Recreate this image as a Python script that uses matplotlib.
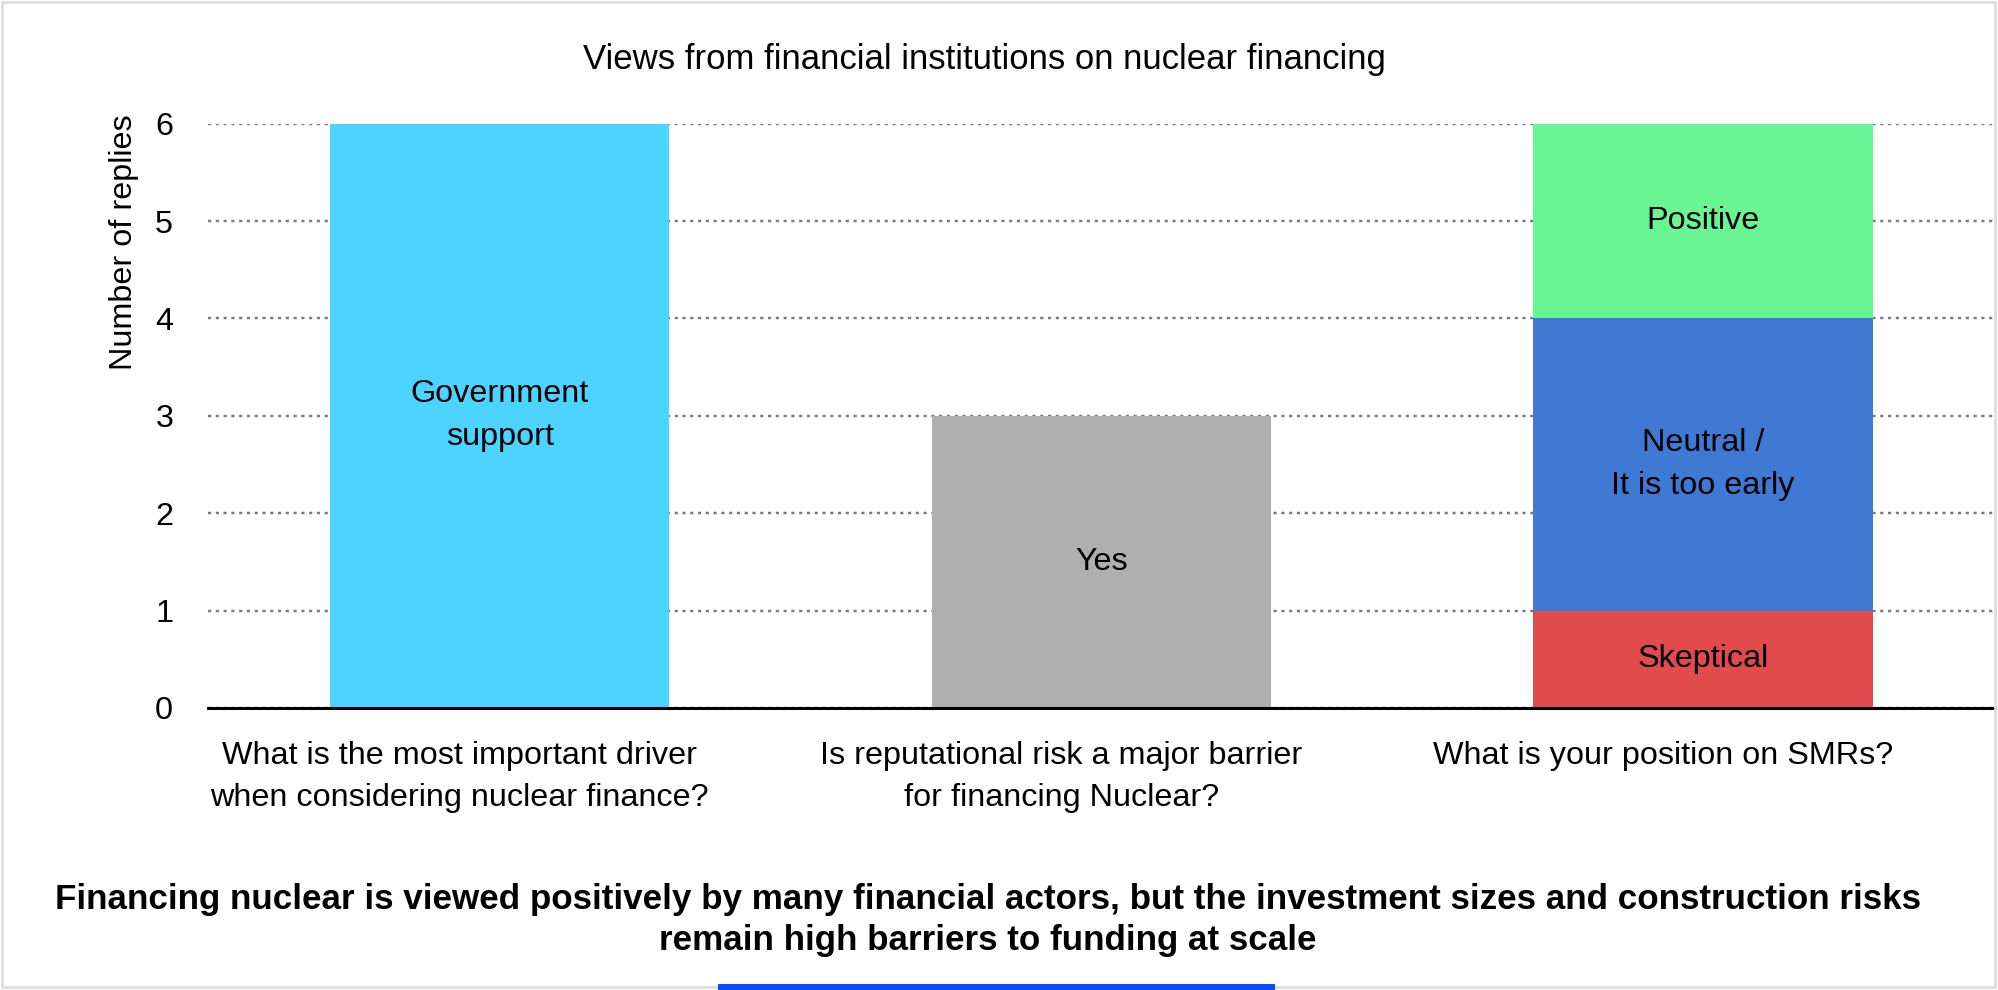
import matplotlib
matplotlib.use("Agg")
import matplotlib.pyplot as plt
from matplotlib.patches import Rectangle
from matplotlib.transforms import ScaledTranslation

plt.rcParams['font.family'] = ['Liberation Sans', 'DejaVu Sans']

# Survey questions (x categories)
questions = [
    "What is the most important driver\nwhen considering nuclear finance?",
    "Is reputational risk a major barrier\nfor financing Nuclear?",
    "What is your position on SMRs?",
]

# Stacked answers per question: (label, count, colour), bottom to top
answers = [
    [("Government\nsupport", 6, "#4cd3ff")],
    [("Yes", 3, "#afafaf")],
    [("Skeptical", 1, "#e14b4b"),
     ("Neutral /\nIt is too early", 3, "#3f79d3"),
     ("Positive", 2, "#6af594")],
]

y_ticks = [0, 1, 2, 3, 4, 5, 6]

title = "Views from financial institutions on nuclear financing"
y_label = "Number of replies"
takeaway = ("Financing nuclear is viewed positively by many financial actors, but the investment sizes and construction risks\n"
            "remain high barriers to funding at scale")

fs = 23.3

fig = plt.figure(figsize=(19.99, 9.90), dpi=100)
ax = fig.add_axes([0.104, 0.285, 0.894, 0.590])

for i, stack in enumerate(answers):
    bottom = 0
    for label, count, color in stack:
        ax.bar(i, count, width=0.564, bottom=bottom, color=color, zorder=3)
        ax.text(i, bottom + count / 2, label, ha='center', va='center',
                fontsize=fs, linespacing=1.56, zorder=4)
        bottom += count

ax.set_xlim(-0.485, 2.485)
ax.set_ylim(0, 6)
ax.set_yticks(y_ticks)
ax.set_xticks(range(len(questions)))
ax.set_xticklabels(questions, fontsize=fs, linespacing=1.5)
ax.tick_params(axis='y', length=0, pad=25, labelsize=fs)
ax.tick_params(axis='x', length=0, pad=24)

# question labels sit a little left of their bars
shift = ScaledTranslation(-0.40, 0, fig.dpi_scale_trans)
for lbl in ax.get_xticklabels():
    lbl.set_transform(lbl.get_transform() + shift)

ax.yaxis.grid(True, color='#7a7a7a', linestyle=(0, (1.3, 1.9)), linewidth=1.75, zorder=1)
for side in ['top', 'right', 'left']:
    ax.spines[side].set_visible(False)
ax.spines['bottom'].set_linewidth(2.2)
ax.spines['bottom'].set_zorder(5)

fig.text(0.4925, 0.940, title, ha='center', va='center', fontsize=25)
fig.text(0.062, 0.755, y_label, ha='center', va='center', rotation=90, fontsize=fs)
fig.text(0.494, 0.071, takeaway, ha='center', va='center', fontsize=25.2,
         fontweight='bold', linespacing=1.32)

# light frame around the whole slide and the blue accent strip at the bottom
fig.patches.append(Rectangle((0.001, 0.003), 0.997, 0.995, transform=fig.transFigure,
                             fill=False, edgecolor='#dddddd', linewidth=2))
fig.patches.append(Rectangle((0.359, 0.0), 0.279, 0.006, transform=fig.transFigure,
                             facecolor='#0a4bff', edgecolor='none'))

fig.savefig("out.png", dpi=100, facecolor='white')
